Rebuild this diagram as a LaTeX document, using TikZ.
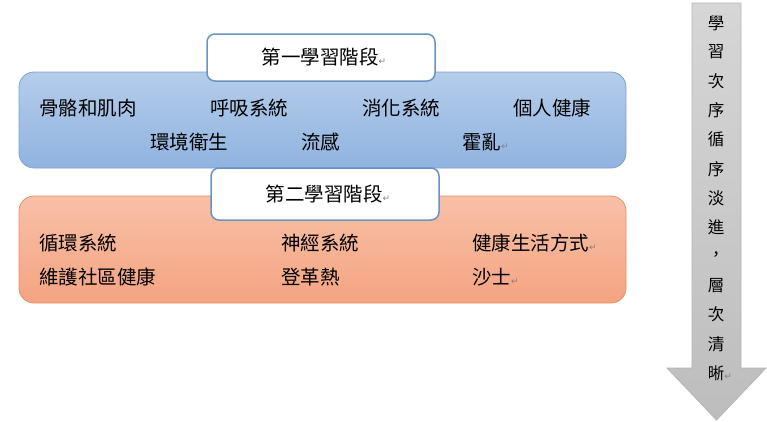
\documentclass[tikz,border=0pt]{standalone}
\usepackage{fontspec}
\newfontfamily\cjk{Noto Sans CJK TC}
\newfontfamily\symf{DejaVu Sans}
\definecolor{blueTop}{HTML}{B4CDEA}
\definecolor{blueBot}{HTML}{90B3E0}
\definecolor{blueLine}{HTML}{7EA1CE}
\definecolor{orTop}{HTML}{F8C0A7}
\definecolor{orBot}{HTML}{F4A482}
\definecolor{orLine}{HTML}{E49063}
\definecolor{titleLine}{HTML}{6A93C4}
\definecolor{arrTop}{HTML}{D6D6D6}
\definecolor{arrBot}{HTML}{BDBDBD}
\definecolor{arrLine}{HTML}{B4B4B4}
\newcommand\pmk{{\symf\fontsize{9}{9}\selectfont\color{gray}↵}}
\tikzset{
  item/.style={anchor=west, inner sep=0pt, font=\cjk\fontsize{19.5}{20}\selectfont},
  titlebox/.style={draw=titleLine, line width=1.5pt, fill=white, rounded corners=8pt,
     minimum width=228pt, inner sep=0pt, font=\cjk\fontsize{19.5}{20}\selectfont},
  panel/.style={rounded corners=15pt, line width=0.8pt},
  arrtxt/.style={inner sep=0pt, font=\cjk\fontsize{16.5}{16.5}\selectfont},
}
\begin{document}
\begin{tikzpicture}[x=1pt,y=-1pt]
\useasboundingbox (0,0) rectangle (767,421);
% panels
\draw[panel, draw=blueLine, top color=blueTop, bottom color=blueBot] (19,72) rectangle (626,168);
\draw[panel, draw=orLine, top color=orTop, bottom color=orBot] (19,196) rectangle (626,303);
% titles
\node[titlebox, minimum height=47pt] (t1) at (321,57.5) {\hspace{6pt}第一學習階段\pmk};
\node[titlebox, minimum height=52pt] (t2) at (325,194) {\hspace{6pt}第二學習階段\pmk};
% stage 1 items
\node[item] (b1) at (39,108) {骨骼和肌肉};
\node[item] (b2) at (210,108) {呼吸系統};
\node[item] (b3) at (362,108) {消化系統};
\node[item] (b4) at (513,108) {個人健康};
\node[item] (b5) at (150,142) {環境衛生};
\node[item] (b6) at (301,142) {流感};
\node[item] (b7) at (462,142) {霍亂\pmk};
% stage 2 items
\node[item] (o1) at (39,243) {循環系統};
\node[item] (o2) at (281,243) {神經系統};
\node[item] (o3) at (472,243) {健康生活方式\pmk};
\node[item] (o4) at (39,277) {維護社區健康};
\node[item] (o5) at (281,277) {登革熱};
\node[item] (o6) at (472,277) {沙士\pmk};
% arrow
\draw[draw=arrLine, line width=0.8pt, top color=arrTop, bottom color=arrBot]
  (692,3) -- (741,3) -- (741,368) -- (766,368) -- (716.5,420) -- (667,368) -- (692,368) -- cycle;
\foreach \c [count=\i] in {學,習,次,序,循,序,淡,進,，,層,次,清}
  \node[arrtxt] (a\i) at (716, 23+29.17*\i-29.17) {\c};
\node[arrtxt] (a13) at (716, 373) {晰\rlap{\pmk}};
\end{tikzpicture}
\end{document}
